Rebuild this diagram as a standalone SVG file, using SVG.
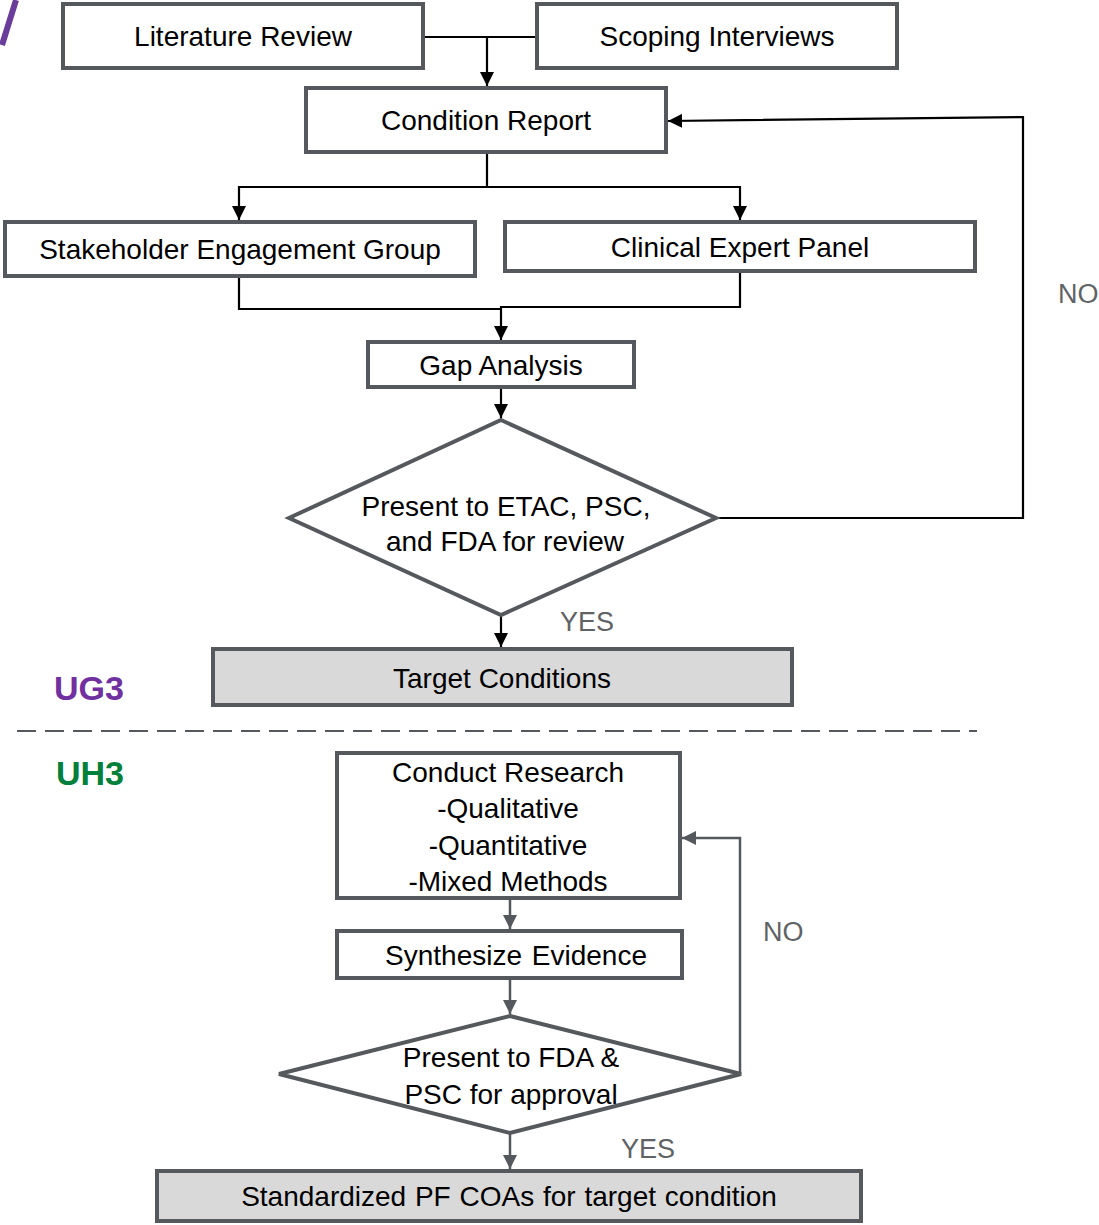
<svg xmlns="http://www.w3.org/2000/svg" width="1099" height="1225" viewBox="0 0 1099 1225">
<defs>
<style>
.box{fill:#ffffff;stroke:#55595d;stroke-width:4}
.gbox{fill:#d9d9d9;stroke:#55595d;stroke-width:4}
.t{font-family:"Liberation Sans",Arial,sans-serif;font-size:28px;fill:#000;text-anchor:middle}
.lab{font-family:"Liberation Sans",Arial,sans-serif;font-size:27px;fill:#5f6366}
.cb{fill:none;stroke:#000;stroke-width:2.2}
.cg{fill:none;stroke:#55595d;stroke-width:2.5}
.phase{font-family:"Liberation Sans",Arial,sans-serif;font-size:34px;font-weight:bold}
</style>
<marker id="ab" viewBox="0 0 10 10" refX="10" refY="5" markerWidth="14" markerHeight="14" markerUnits="userSpaceOnUse" orient="auto"><path d="M0,0L10,5L0,10z" fill="#000"/></marker>
<marker id="ag" viewBox="0 0 10 10" refX="10" refY="5" markerWidth="14" markerHeight="14" markerUnits="userSpaceOnUse" orient="auto"><path d="M0,0L10,5L0,10z" fill="#55595d"/></marker>
</defs>
<rect width="1099" height="1225" fill="#ffffff"/>
<line x1="16" y1="0" x2="2" y2="45" stroke="#6a3d9a" stroke-width="6"/>

<g id="connectors">
<path class="cb" d="M423,37 H537"/>
<path class="cb" d="M487,37 V86" marker-end="url(#ab)"/>
<path class="cb" d="M487,152 V187 H239 V220" marker-end="url(#ab)"/>
<path class="cb" d="M487,187 H740 V220" marker-end="url(#ab)"/>
<path class="cb" d="M239,276 V309 H501"/>
<path class="cb" d="M740,271 V307 H501 V340" marker-end="url(#ab)"/>
<path class="cb" d="M501,387 V418" marker-end="url(#ab)"/>
<path class="cb" d="M716,518 H1023 V117 L668,121" marker-end="url(#ab)"/>
<path class="cb" d="M501,615 V647" marker-end="url(#ab)"/>
<line x1="17" y1="731" x2="977" y2="731" stroke="#55595d" stroke-width="2" stroke-dasharray="19 9"/>
<path class="cg" d="M510,898 V929" marker-end="url(#ag)"/>
<path class="cg" d="M510,978 V1014" marker-end="url(#ag)"/>
<path class="cg" d="M740,1074 V838 H682" marker-end="url(#ag)"/>
<path class="cg" d="M510,1133 V1169" marker-end="url(#ag)"/>
</g>

<g id="literature-review">
<rect class="box" x="63" y="4" width="360" height="64"/>
<text class="t" x="243" y="46">Literature Review</text>
</g>
<g id="scoping-interviews">
<rect class="box" x="537" y="4" width="360" height="64"/>
<text class="t" x="717" y="46">Scoping Interviews</text>
</g>
<g id="condition-report">
<rect class="box" x="306" y="88" width="360" height="64"/>
<text class="t" x="486" y="130">Condition Report</text>
</g>
<g id="stakeholder-engagement-group">
<rect class="box" x="5" y="222" width="470" height="54"/>
<text class="t" x="240" y="259">Stakeholder Engagement Group</text>
</g>
<g id="clinical-expert-panel">
<rect class="box" x="505" y="222" width="470" height="49"/>
<text class="t" x="740" y="257">Clinical Expert Panel</text>
</g>
<g id="gap-analysis">
<rect class="box" x="368" y="342" width="266" height="45"/>
<text class="t" x="501" y="375">Gap Analysis</text>
</g>
<g id="decision-etac">
<polygon class="box" points="501,420 716,518 501,615 289,518"/>
<text class="t" x="506" y="516">Present to ETAC, PSC,</text>
<text class="t" x="505" y="551">and FDA for review</text>
</g>
<text class="lab" x="1058" y="303">NO</text>
<text class="lab" x="560" y="631">YES</text>
<g id="target-conditions">
<rect class="gbox" x="213" y="649" width="579" height="56"/>
<text class="t" x="502" y="688">Target Conditions</text>
</g>
<text class="phase" x="54" y="700" fill="#7030a0">UG3</text>
<text class="phase" x="56" y="785" fill="#00803a">UH3</text>

<g id="conduct-research">
<rect class="box" x="337" y="753" width="343" height="145"/>
<text class="t" x="508" y="782">Conduct Research</text>
<text class="t" x="508" y="818">-Qualitative</text>
<text class="t" x="508" y="855">-Quantitative</text>
<text class="t" x="508" y="891">-Mixed Methods</text>
</g>
<g id="synthesize-evidence">
<rect class="box" x="337" y="931" width="345" height="47"/>
<text class="t" x="516" y="965" word-spacing="2">Synthesize Evidence</text>
</g>
<g id="decision-fda">
<polygon class="box" points="510,1016 741,1074 510,1133 279,1074"/>
<text class="t" x="511" y="1067">Present to FDA &amp;</text>
<text class="t" x="511" y="1104">PSC for approval</text>
</g>
<text class="lab" x="763" y="941">NO</text>
<text class="lab" x="621" y="1158">YES</text>
<g id="standardized-pf-coas">
<rect class="gbox" x="157" y="1171" width="704" height="50"/>
<text class="t" x="509" y="1206" word-spacing="1">Standardized PF COAs for target condition</text>
</g>
</svg>
